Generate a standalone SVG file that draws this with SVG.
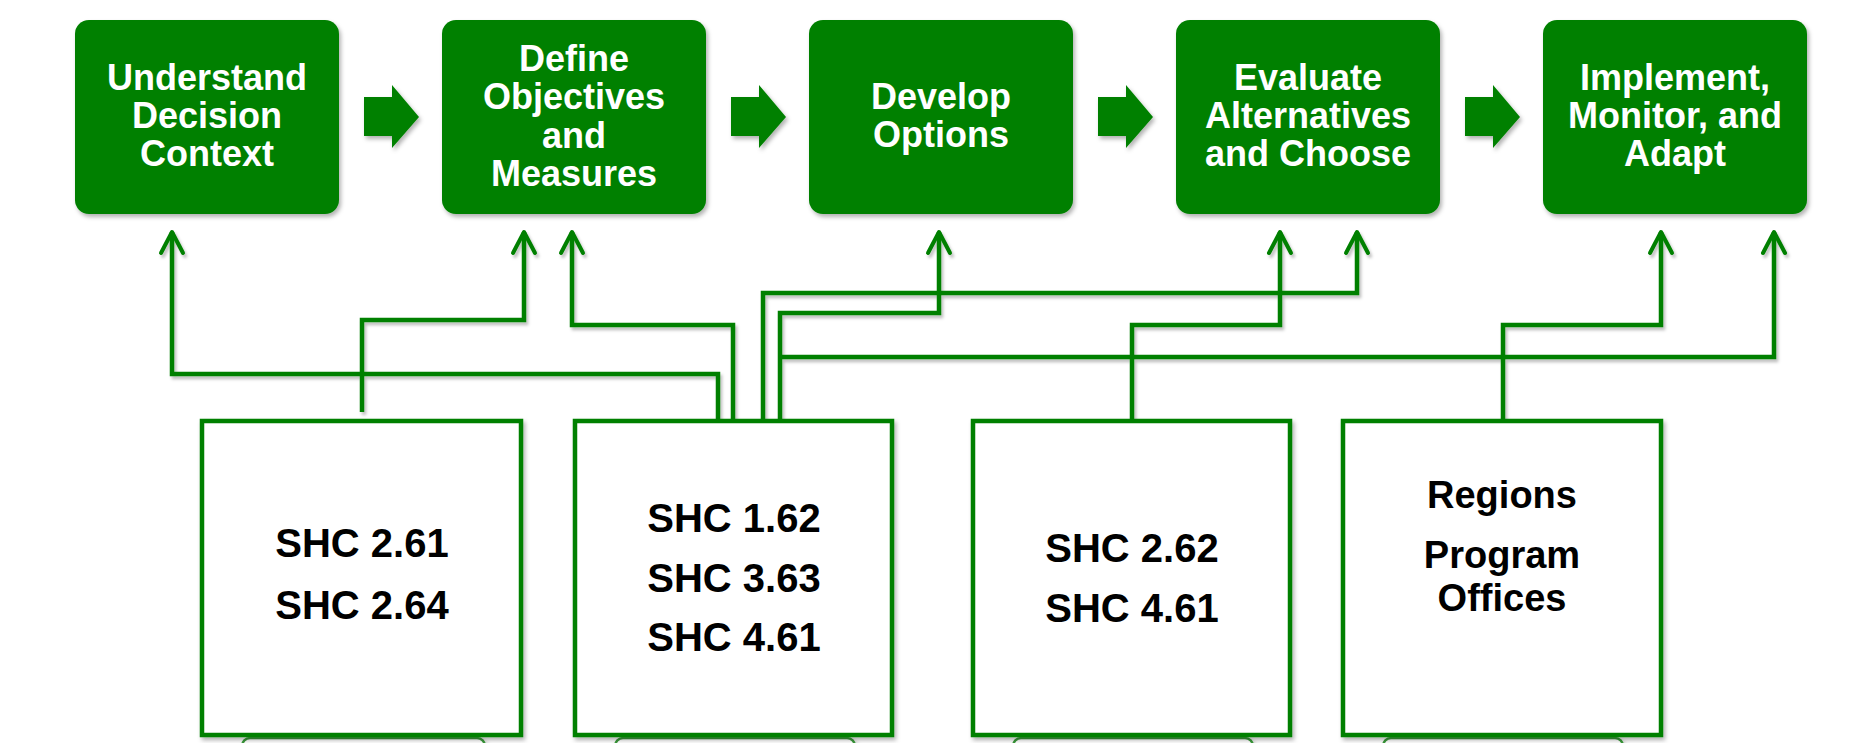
<svg xmlns="http://www.w3.org/2000/svg" width="1859" height="743" viewBox="0 0 1859 743">
<defs>
<filter id="sh" x="-10%" y="-10%" width="130%" height="140%">
<feDropShadow dx="2" dy="3" stdDeviation="2" flood-color="#000" flood-opacity="0.3"/>
</filter>
<filter id="lsh" x="-5%" y="-5%" width="110%" height="120%">
<feDropShadow dx="2" dy="3" stdDeviation="1.5" flood-color="#000" flood-opacity="0.25"/>
</filter>
<marker id="ah" viewBox="-26 -15 30 30" markerWidth="30" markerHeight="30" refX="0" refY="0" orient="auto" markerUnits="userSpaceOnUse" overflow="visible">
<path d="M -21 -11 L 0 0 L -21 11" fill="none" stroke="#008000" stroke-width="4" stroke-linejoin="round" stroke-linecap="round"/>
</marker>
</defs>
<style>
.step{fill:#008000;filter:url(#sh)}
.stept{font-family:"Liberation Sans",Arial,sans-serif;font-weight:bold;font-size:36px;fill:#fff;text-anchor:middle}
.blk{fill:#008000;filter:url(#sh)}
.src{fill:#fff;stroke:#008000;stroke-width:4.5;filter:url(#sh)}
.peek{fill:#fff;stroke:#3a9a3a;stroke-width:2.5;filter:url(#sh)}
.srct{font-family:"Liberation Sans",Arial,sans-serif;font-weight:bold;font-size:40px;fill:#000;text-anchor:middle}
.srct2{font-family:"Liberation Sans",Arial,sans-serif;font-weight:bold;font-size:38px;fill:#000;text-anchor:middle}
.con{fill:none;stroke:#008000;stroke-width:4.5;stroke-linejoin:miter}
</style>
<rect width="1859" height="743" fill="#fff"/>

<g id="peeks">
<rect class="peek" x="242" y="738" width="243" height="30" rx="8"/>
<rect class="peek" x="615" y="738" width="240" height="30" rx="8"/>
<rect class="peek" x="1013" y="738" width="240" height="30" rx="8"/>
<rect class="peek" x="1383" y="738" width="240" height="30" rx="8"/>
</g>

<g id="step1">
<rect class="step" x="75" y="20" width="264" height="194" rx="14"/>
<text class="stept" x="207" y="90">Understand</text>
<text class="stept" x="207" y="128">Decision</text>
<text class="stept" x="207" y="166">Context</text>
</g>
<g id="step2">
<rect class="step" x="442" y="20" width="264" height="194" rx="14"/>
<text class="stept" x="574" y="71">Define</text>
<text class="stept" x="574" y="109">Objectives</text>
<text class="stept" x="574" y="148">and</text>
<text class="stept" x="574" y="186">Measures</text>
</g>
<g id="step3">
<rect class="step" x="809" y="20" width="264" height="194" rx="14"/>
<text class="stept" x="941" y="109">Develop</text>
<text class="stept" x="941" y="147">Options</text>
</g>
<g id="step4">
<rect class="step" x="1176" y="20" width="264" height="194" rx="14"/>
<text class="stept" x="1308" y="90">Evaluate</text>
<text class="stept" x="1308" y="128">Alternatives</text>
<text class="stept" x="1308" y="166">and Choose</text>
</g>
<g id="step5">
<rect class="step" x="1543" y="20" width="264" height="194" rx="14"/>
<text class="stept" x="1675" y="90">Implement,</text>
<text class="stept" x="1675" y="128">Monitor, and</text>
<text class="stept" x="1675" y="166">Adapt</text>
</g>

<g id="flow-arrows">
<path class="blk" d="M364 97 H392 V85 L419 117 L392 148 V136 H364 Z"/>
<path class="blk" d="M731 97 H759 V85 L786 117 L759 148 V136 H731 Z"/>
<path class="blk" d="M1098 97 H1126 V85 L1153 117 L1126 148 V136 H1098 Z"/>
<path class="blk" d="M1465 97 H1493 V85 L1520 117 L1493 148 V136 H1465 Z"/>
</g>

<g id="connectors" filter="url(#lsh)">
<path class="con" marker-end="url(#ah)" d="M718 421 V374 H172 V232"/>
<path class="con" marker-end="url(#ah)" d="M362 412 V320 H524 V232"/>
<path class="con" marker-end="url(#ah)" d="M733 421 V325 H572 V232"/>
<path class="con" marker-end="url(#ah)" d="M763 421 V293 H1357 V232"/>
<path class="con" marker-end="url(#ah)" d="M780 421 V313 H939 V232"/>
<path class="con" marker-end="url(#ah)" d="M780 357 H1774 V232"/>
<path class="con" marker-end="url(#ah)" d="M1132 421 V325 H1280 V232"/>
<path class="con" marker-end="url(#ah)" d="M1503 421 V325 H1661 V232"/>
</g>

<g id="srcA">
<rect class="src" x="202" y="421" width="319" height="314"/>
<text class="srct" x="362" y="557">SHC 2.61</text>
<text class="srct" x="362" y="619">SHC 2.64</text>
</g>
<g id="srcB">
<rect class="src" x="575" y="421" width="317" height="314"/>
<text class="srct" x="734" y="532">SHC 1.62</text>
<text class="srct" x="734" y="592">SHC 3.63</text>
<text class="srct" x="734" y="651">SHC 4.61</text>
</g>
<g id="srcC">
<rect class="src" x="973" y="421" width="317" height="314"/>
<text class="srct" x="1132" y="562">SHC 2.62</text>
<text class="srct" x="1132" y="622">SHC 4.61</text>
</g>
<g id="srcD">
<rect class="src" x="1343" y="421" width="318" height="314"/>
<text class="srct2" x="1502" y="508">Regions</text>
<text class="srct2" x="1502" y="568">Program</text>
<text class="srct2" x="1502" y="611">Offices</text>
</g>
</svg>
